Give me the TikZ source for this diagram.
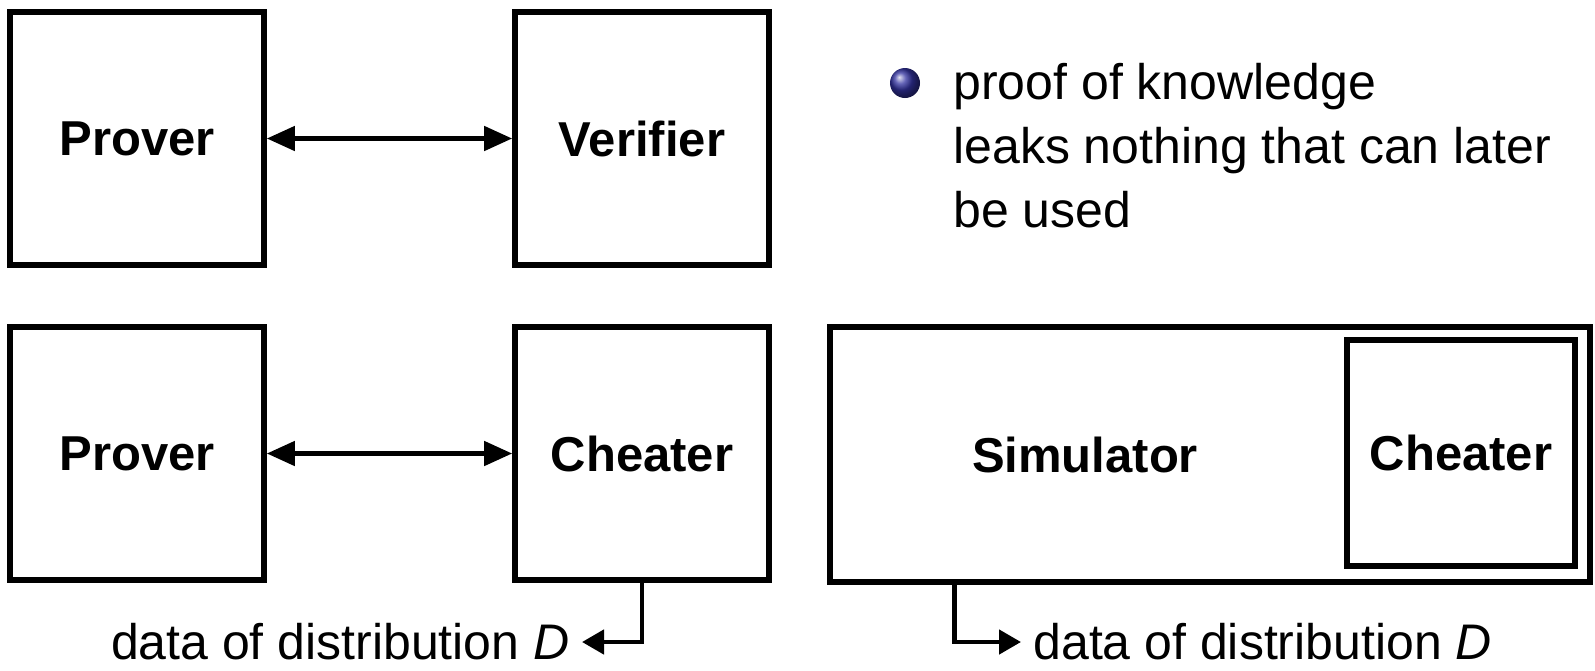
\documentclass[tikz,border=0pt]{standalone}
\usepackage{fontspec}
\setmainfont{Liberation Sans}
\usetikzlibrary{arrows.meta,shadings}
\definecolor{bulletblue}{RGB}{50,50,160}

\begin{document}
\begin{tikzpicture}[x=0.5pt, y=-0.5pt,
    every node/.style={font=\fontsize{25pt}{32pt}\selectfont},
    party/.style={draw, line width=2.8pt, minimum width=127pt, minimum height=126.5pt, inner sep=0pt, font=\fontsize{24.5pt}{30pt}\selectfont\bfseries},
    talk/.style={line width=2.3pt, {Triangle[length=14pt,width=12pt]}-{Triangle[length=14pt,width=12pt]}},
    emit/.style={line width=2.3pt, -{Triangle[length=11pt,width=12pt]}}]
    \useasboundingbox (0,0) rectangle (1595,670);

    % real interaction
    \node[party] (prover) at (137,138.5) {Prover};
    \node[party] (verifier) at (642,138.5) {Verifier};
    \draw[talk] (prover.east) -- (verifier.west);

    % bullet
    \node[circle, inner sep=0pt, minimum size=15pt, shading=ball, ball color=bulletblue] (dot) at (905,83) {};
    \node[anchor=base west, align=left, inner sep=0pt] (claim) at (953,227)
      {proof of knowledge\\leaks nothing that can later\\be used};

    % with a cheater
    \node[party] (prover2) at (137,453.5) {Prover};
    \node[party] (cheater) at (642,453.5) {Cheater};
    \draw[talk] (prover2.east) -- (cheater.west);

    \node[anchor=east, inner xsep=6pt] (dataL) at (582,642) {data of distribution \textit{D}};
    \draw[emit] (cheater.south) |- (dataL.east);

    % simulated
    \node[party, minimum width=380pt, minimum height=127.5pt] (sim) at (1210,454.5) {};
    \node[font=\fontsize{24.5pt}{30pt}\selectfont\bfseries] (simlabel) at (1085,455) {Simulator};
    \node[party, minimum width=114pt, minimum height=113pt] (cheater2) at (1461,453) {Cheater};

    \node[anchor=west, inner xsep=6pt] (dataR) at (1021,642) {data of distribution \textit{D}};
    \draw[emit] (sim.south west) ++(127,0) |- (dataR.west);
\end{tikzpicture}
\end{document}
